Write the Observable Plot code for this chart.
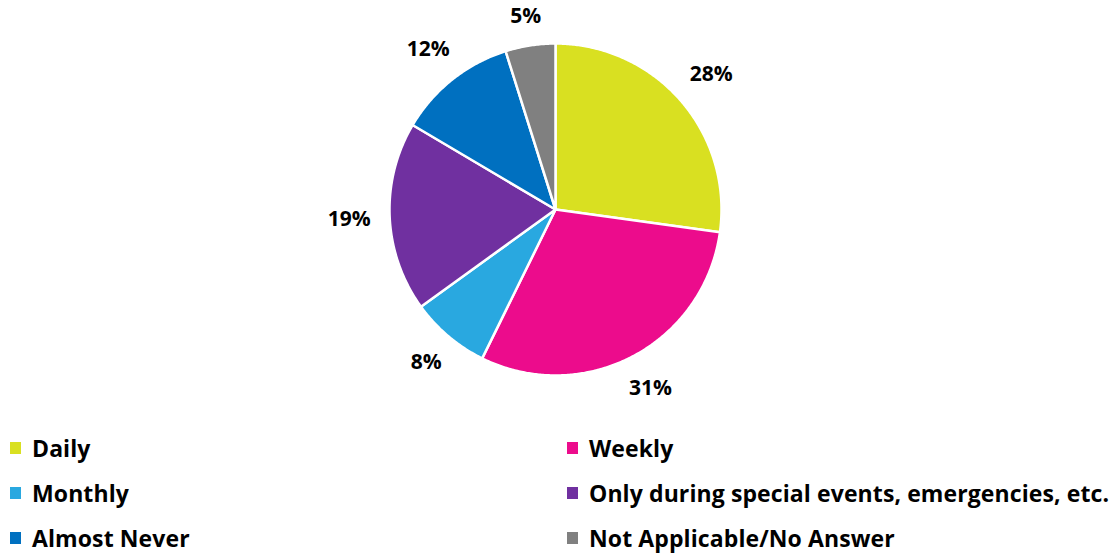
<!DOCTYPE html>
<html>
<head>
<meta charset="utf-8">
<script src="https://cdn.jsdelivr.net/npm/d3@7"></script>
<script src="https://cdn.jsdelivr.net/npm/@observablehq/plot@0.6"></script>
<style>
  body { margin: 0; background: #fff; font-family: "Open Sans", sans-serif; }
  #chart { width: 1120px; height: 553px; position: relative; }
  #legend { display: grid; grid-template-columns: 557px auto; padding-left: 10px; }
  .item { display: flex; align-items: center; height: 45px; font-weight: bold; font-size: 23px; letter-spacing: 0.1px; color: #000; white-space: nowrap; }
  .sw { width: 11px; height: 12px; margin-right: 11px; flex: none; }
</style>
</head>
<body>
<div id="chart"></div>
<script>
const categories = ["Daily", "Weekly", "Monthly", "Only during special events, emergencies, etc.", "Almost Never", "Not Applicable/No Answer"];
const values = [28, 31, 8, 19, 12, 5];
const labels = ["28%", "31%", "8%", "19%", "12%", "5%"];
const colors = ["#D9E021", "#EC0C8C", "#29A8E0", "#7030A0", "#0070C0", "#808080"];

const R = 166;             // pie radius in pixels (domain [-1,1] spans 2R)
const labelFont = 21;
const total = d3.sum(values);
const slices = [];
const labelPts = [];
let acc = 0;
values.forEach((v, i) => {
  const a0 = acc / total * 2 * Math.PI;
  acc += v;
  const a1 = acc / total * 2 * Math.PI;
  const n = Math.max(2, Math.ceil((a1 - a0) / (Math.PI / 360)));
  slices.push({cat: categories[i], x: 0, y: 0});
  for (let k = 0; k <= n; k++) {
    const a = a0 + (a1 - a0) * k / n;
    slices.push({cat: categories[i], x: Math.sin(a), y: Math.cos(a)});
  }
  const am = (a0 + a1) / 2;
  // place label box just outside the arc (box half-extents projected on the radial direction)
  const w = labels[i].length * 0.67 * labelFont, h = 0.8 * labelFont;
  const r = (R + 19 + Math.abs(Math.sin(am)) * w / 2 + Math.abs(Math.cos(am)) * h / 2) / R;
  labelPts.push({x: r * Math.sin(am), y: r * Math.cos(am), label: labels[i]});
});

const plot = Plot.plot({
  width: 1120,
  height: 425,
  marginLeft: 389,
  marginRight: 399,
  marginTop: 43,
  marginBottom: 50,
  x: {domain: [-1, 1], axis: null},
  y: {domain: [-1, 1], axis: null},
  color: {domain: categories, range: colors},
  style: {fontFamily: "'Open Sans', sans-serif", background: "#fff", overflow: "visible"},
  marks: [
    Plot.line(slices, {x: "x", y: "y", z: "cat", fill: "cat", stroke: "#fff", strokeWidth: 2.5, strokeLinejoin: "round", curve: "linear-closed"}),
    Plot.text(labelPts, {x: "x", y: "y", text: "label", fontSize: labelFont, fontWeight: "bold", fill: "#000"})
  ]
});

const chart = document.getElementById("chart");
chart.appendChild(plot);
const legend = document.createElement("div");
legend.id = "legend";
categories.forEach((c, i) => {
  const item = document.createElement("div");
  item.className = "item";
  const sw = document.createElement("span");
  sw.className = "sw";
  sw.style.background = colors[i];
  const t = document.createElement("span");
  t.textContent = c;
  item.appendChild(sw);
  item.appendChild(t);
  legend.appendChild(item);
});
chart.appendChild(legend);
</script>
</body>
</html>
